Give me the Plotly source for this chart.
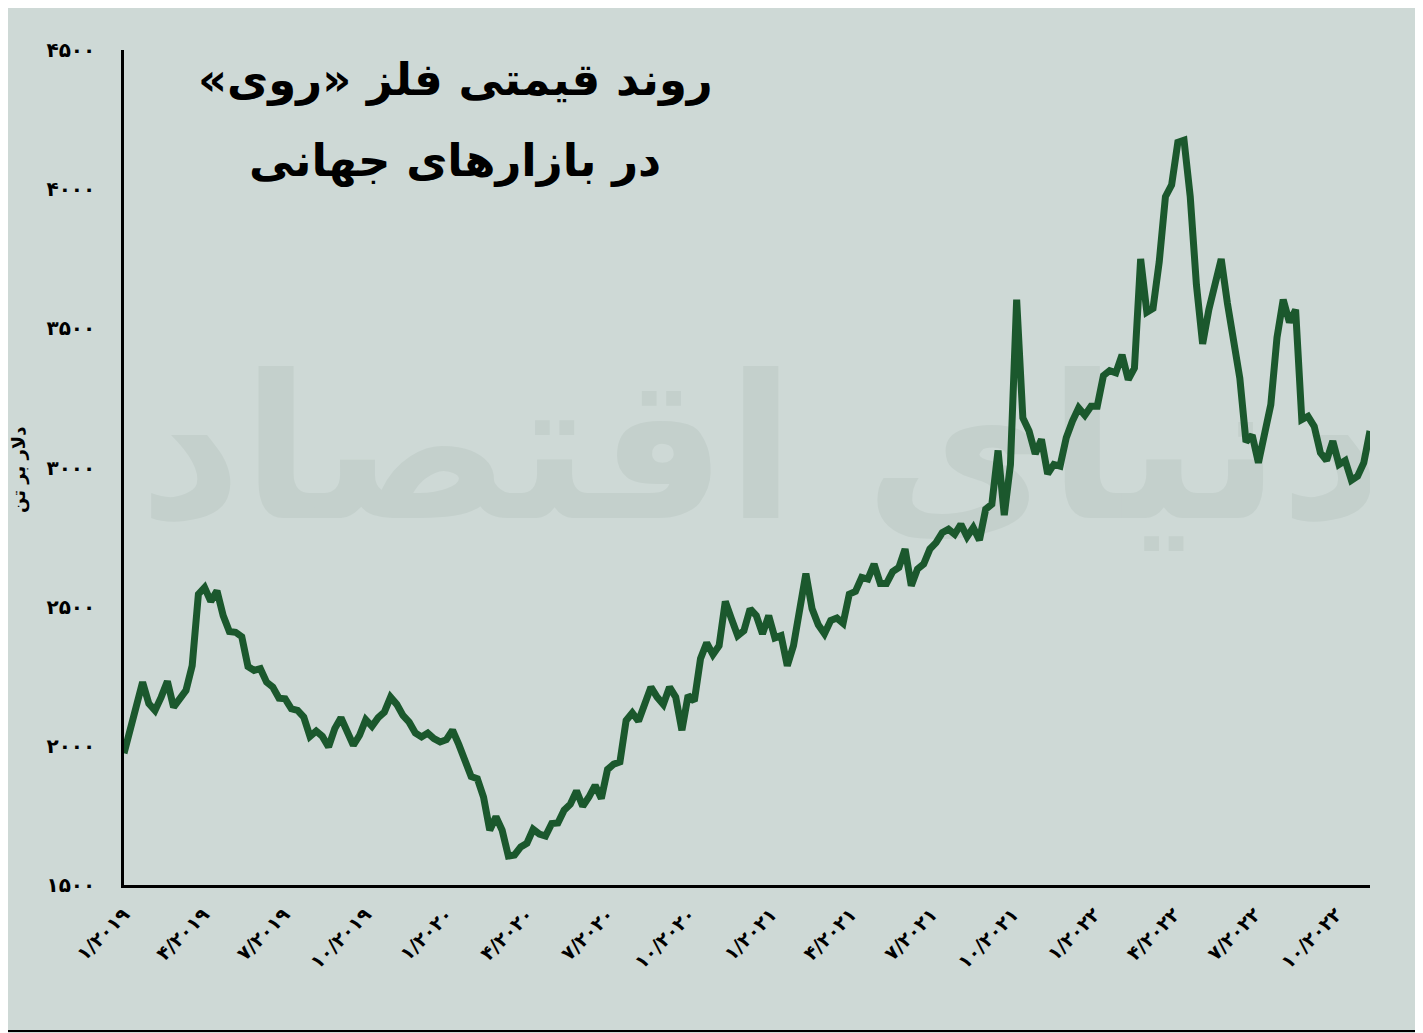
import plotly.graph_objects as go
import pandas as pd

# Weekly zinc price (USD per tonne)
start_date = "2019-01-01"
prices = [
    1973, 2055, 2140, 2229, 2152, 2127, 2175, 2232, 2139, 2169,
    2199, 2288, 2545, 2569, 2519, 2557, 2468, 2411, 2408, 2392,
    2285, 2271, 2277, 2229, 2211, 2171, 2169, 2133, 2127, 2103,
    2034, 2053, 2034, 1996, 2062, 2101, 2044, 2002, 2038, 2094,
    2070, 2101, 2121, 2175, 2149, 2109, 2085, 2046, 2032, 2046,
    2026, 2014, 2022, 2056, 2005, 1948, 1890, 1882, 1816, 1697,
    1745, 1697, 1604, 1608, 1637, 1650, 1700, 1683, 1676, 1721,
    1723, 1769, 1790, 1838, 1783, 1816, 1858, 1811, 1915, 1934,
    1942, 2091, 2118, 2089, 2157, 2211, 2175, 2149, 2211, 2175,
    2056, 2181, 2161, 2313, 2370, 2328, 2360, 2519, 2456, 2396,
    2414, 2492, 2468, 2402, 2468, 2388, 2396, 2288, 2360, 2480,
    2619, 2492, 2435, 2403, 2450, 2459, 2440, 2545, 2555, 2605,
    2599, 2653, 2583, 2583, 2626, 2641, 2707, 2575, 2635, 2653,
    2707, 2730, 2766, 2778, 2760, 2796, 2751, 2784, 2739, 2850,
    2868, 3061, 2829, 3011, 3603, 3178, 3131, 3049, 3101, 2977,
    3011, 3005, 3107, 3167, 3214, 3188, 3220, 3220, 3330, 3348,
    3340, 3405, 3316, 3357, 3749, 3558, 3572, 3739, 3973, 4015,
    4168, 4176, 3973, 3656, 3444, 3567, 3656, 3749, 3590, 3465,
    3321, 3092, 3116, 3017, 3109, 3226, 3467, 3603, 3522, 3567,
    3172, 3184, 3148, 3053, 3025, 3095, 3011, 3025, 2954, 2969,
    3017, 3131,
]
dates = pd.date_range(start_date, periods=len(prices), freq="7D")

tick_dates = [
    "2019-01-01", "2019-04-01", "2019-07-01", "2019-10-01",
    "2020-01-01", "2020-04-01", "2020-07-01", "2020-10-01",
    "2021-01-01", "2021-04-01", "2021-07-01", "2021-10-01",
    "2022-01-01", "2022-04-01", "2022-07-01", "2022-10-01",
]
tick_labels = [
    "۱/۲۰۱۹", "۴/۲۰۱۹", "۷/۲۰۱۹", "۱۰/۲۰۱۹",
    "۱/۲۰۲۰", "۴/۲۰۲۰", "۷/۲۰۲۰", "۱۰/۲۰۲۰",
    "۱/۲۰۲۱", "۴/۲۰۲۱", "۷/۲۰۲۱", "۱۰/۲۰۲۱",
    "۱/۲۰۲۲", "۴/۲۰۲۲", "۷/۲۰۲۲", "۱۰/۲۰۲۲",
]
y_ticks = [1500, 2000, 2500, 3000, 3500, 4000, 4500]
y_labels = ["۱۵۰۰", "۲۰۰۰", "۲۵۰۰", "۳۰۰۰", "۳۵۰۰", "۴۰۰۰", "۴۵۰۰"]

RLM = "\u200f"
title_line1 = RLM + "روند قیمتی فلز «روی»" + RLM
title_line2 = RLM + "در بازارهای جهانی" + RLM
y_title = RLM + "دلار بر تن" + RLM
watermark = RLM + "دنیای اقتصاد" + RLM

BG = "#ced9d6"
LINE = "#1b582d"
FONT = "DejaVu Sans"

# page body adds an 8px margin; the figure fills the rest of the window
W, H = 1415, 1025
L, T = 116, 42
PW, PH = 1246, 835
R, B = W - L - PW, H - T - PH

fig = go.Figure()

# faint watermark behind the line
fig.add_trace(go.Scatter(
    x=[pd.Timestamp("2020-12-20")], y=[3000], mode="text", text=[watermark],
    textfont=dict(family=FONT, size=200, color="#c4d0cc", weight="bold"),
    hoverinfo="skip", showlegend=False,
))

fig.add_trace(go.Scatter(
    x=dates, y=prices, mode="lines",
    line=dict(color=LINE, width=7, shape="linear"),
    hoverinfo="skip", showlegend=False,
))

def px_x(p):
    return (p - L) / PW

def px_y(p):
    return (T + PH - p) / PH

fig.update_layout(
    width=W, height=H,
    paper_bgcolor=BG, plot_bgcolor=BG,
    margin=dict(l=L, r=R, t=T, b=B, pad=0),
    showlegend=False,
    xaxis=dict(
        type="date",
        range=[dates[0], dates[-1]],
        tickmode="array", tickvals=tick_dates, ticktext=tick_labels,
        tickangle=-45, showgrid=False, zeroline=False,
        showline=True, linecolor="black", linewidth=2.5,
        ticks="outside", ticklen=8, tickcolor=BG,
        tickfont=dict(family=FONT, size=19, color="black", weight="bold"),
        fixedrange=True,
    ),
    yaxis=dict(
        range=[1500, 4500],
        tickmode="array", tickvals=y_ticks, ticktext=y_labels,
        showgrid=False, zeroline=False,
        showline=True, linecolor="black", linewidth=2.5,
        ticks="outside", ticklen=22, tickcolor=BG,
        tickfont=dict(family=FONT, size=20, color="black", weight="bold"),
        fixedrange=True,
    ),
    annotations=[
        dict(text=title_line1, xref="paper", yref="paper", x=px_x(447), y=px_y(72),
             showarrow=False, xanchor="center", yanchor="middle",
             font=dict(family=FONT, size=45, color="black", weight="bold")),
        dict(text=title_line2, xref="paper", yref="paper", x=px_x(447), y=px_y(152),
             showarrow=False, xanchor="center", yanchor="middle",
             font=dict(family=FONT, size=45, color="black", weight="bold")),
        dict(text=y_title, xref="paper", yref="paper", x=px_x(11), y=px_y(462),
             showarrow=False, xanchor="center", yanchor="middle", textangle=-90,
             font=dict(family=FONT, size=18, color="black", weight="bold")),
    ],
    shapes=[
        dict(type="rect", xref="paper", yref="paper",
             x0=px_x(-7), x1=px_x(W - 2), y0=px_y(H - 2), y1=px_y(-7),
             line=dict(color="black", width=2), fillcolor="rgba(0,0,0,0)", layer="below"),
    ],
)

fig.write_html("out.html")
